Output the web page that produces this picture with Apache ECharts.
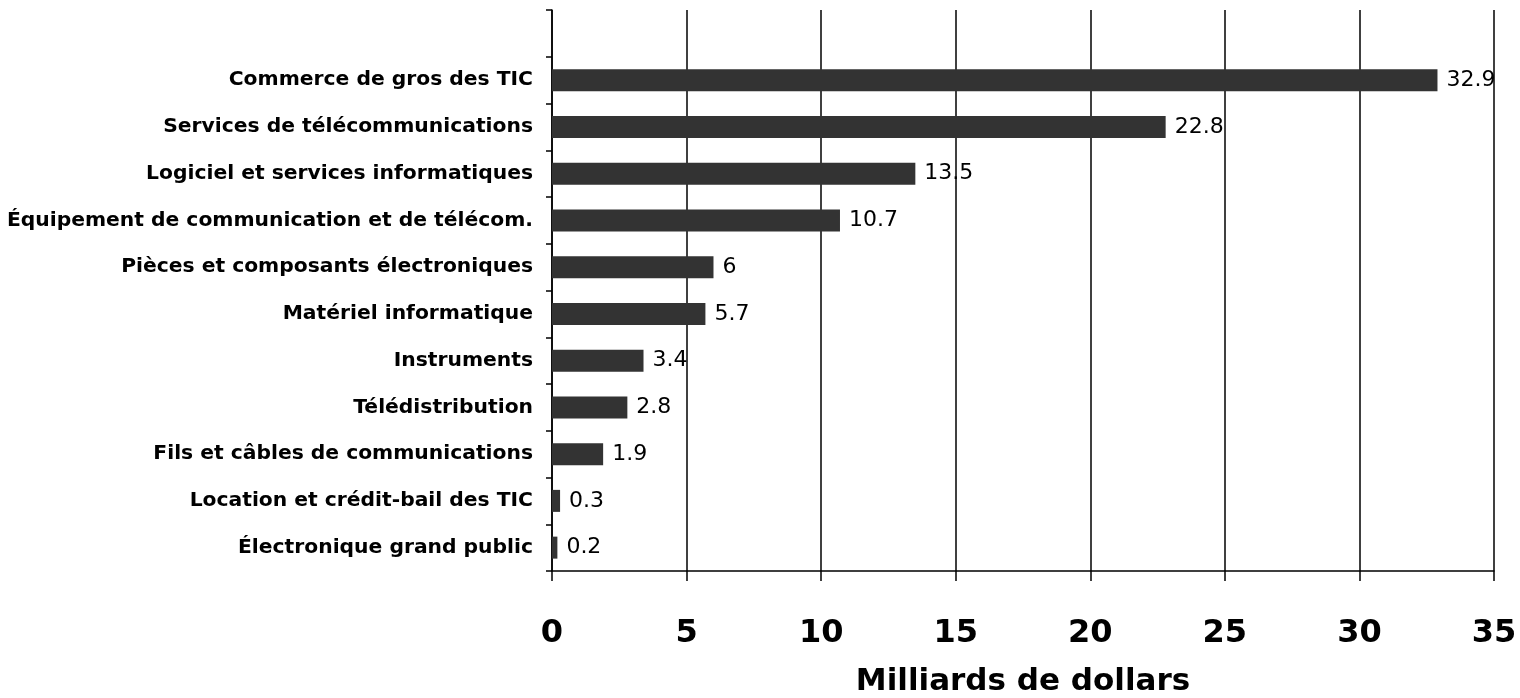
<!DOCTYPE html>
<html>
<head>
<meta charset="utf-8">
<script src="https://cdn.jsdelivr.net/npm/echarts@6/dist/echarts.min.js"></script>
<style>
  html, body { margin: 0; padding: 0; background: #fff; }
  #chart { width: 1520px; height: 698px; }
</style>
</head>
<body>
<div id="chart"></div>
<script>
// categories listed bottom to top; the blank one keeps the empty slot at the top
const categories = [
  'Électronique grand public',
  'Location et crédit-bail des TIC',
  'Fils et câbles de communications',
  'Télédistribution',
  'Instruments',
  'Matériel informatique',
  'Pièces et composants électroniques',
  'Équipement de communication et de télécom.',
  'Logiciel et services informatiques',
  'Services de télécommunications',
  'Commerce de gros des TIC',
  ''
]
const values = [0.2, 0.3, 1.9, 2.8, 3.4, 5.7, 6, 10.7, 13.5, 22.8, 32.9, null]
const xTicks = [0, 5, 10, 15, 20, 25, 30, 35]
const axisTitle = 'Milliards de dollars'

const chart = echarts.init(document.getElementById('chart'))
chart.setOption({
  animation: false,
  grid: { left: 552, right: 26, top: 10, bottom: 127, outerBoundsMode: 'none' },
  xAxis: {
    type: 'value',
    min: xTicks[0],
    max: xTicks[xTicks.length - 1],
    interval: 5,
    name: axisTitle,
    nameLocation: 'middle',
    nameGap: 95,
    nameTextStyle: { fontFamily: 'DejaVu Sans', fontWeight: 'bold', fontSize: 31, color: '#000', verticalAlign: 'top' },
    axisLine: { show: true, lineStyle: { color: '#000', width: 1.5 } },
    axisTick: { show: true, length: 10, lineStyle: { color: '#000', width: 1.5 } },
    axisLabel: { margin: 47, fontFamily: 'DejaVu Sans', fontWeight: 'bold', fontSize: 32, color: '#000' },
    splitLine: { show: true, lineStyle: { color: '#000', width: 1.5 } }
  },
  yAxis: {
    type: 'category',
    data: categories,
    axisLine: { show: true, lineStyle: { color: '#000', width: 1.5 } },
    axisTick: { show: true, length: 6, lineStyle: { color: '#000', width: 1.5 } },
    axisLabel: { margin: 19, fontFamily: 'DejaVu Sans', fontWeight: 'bold', fontSize: 20.3, color: '#000' }
  },
  series: [{
    type: 'bar',
    data: values,
    barWidth: 22,
    itemStyle: { color: '#333333' },
    label: {
      show: true,
      position: 'right',
      distance: 9,
      fontFamily: 'DejaVu Sans',
      fontSize: 22,
      color: '#000'
    }
  }]
})
</script>
</body>
</html>
